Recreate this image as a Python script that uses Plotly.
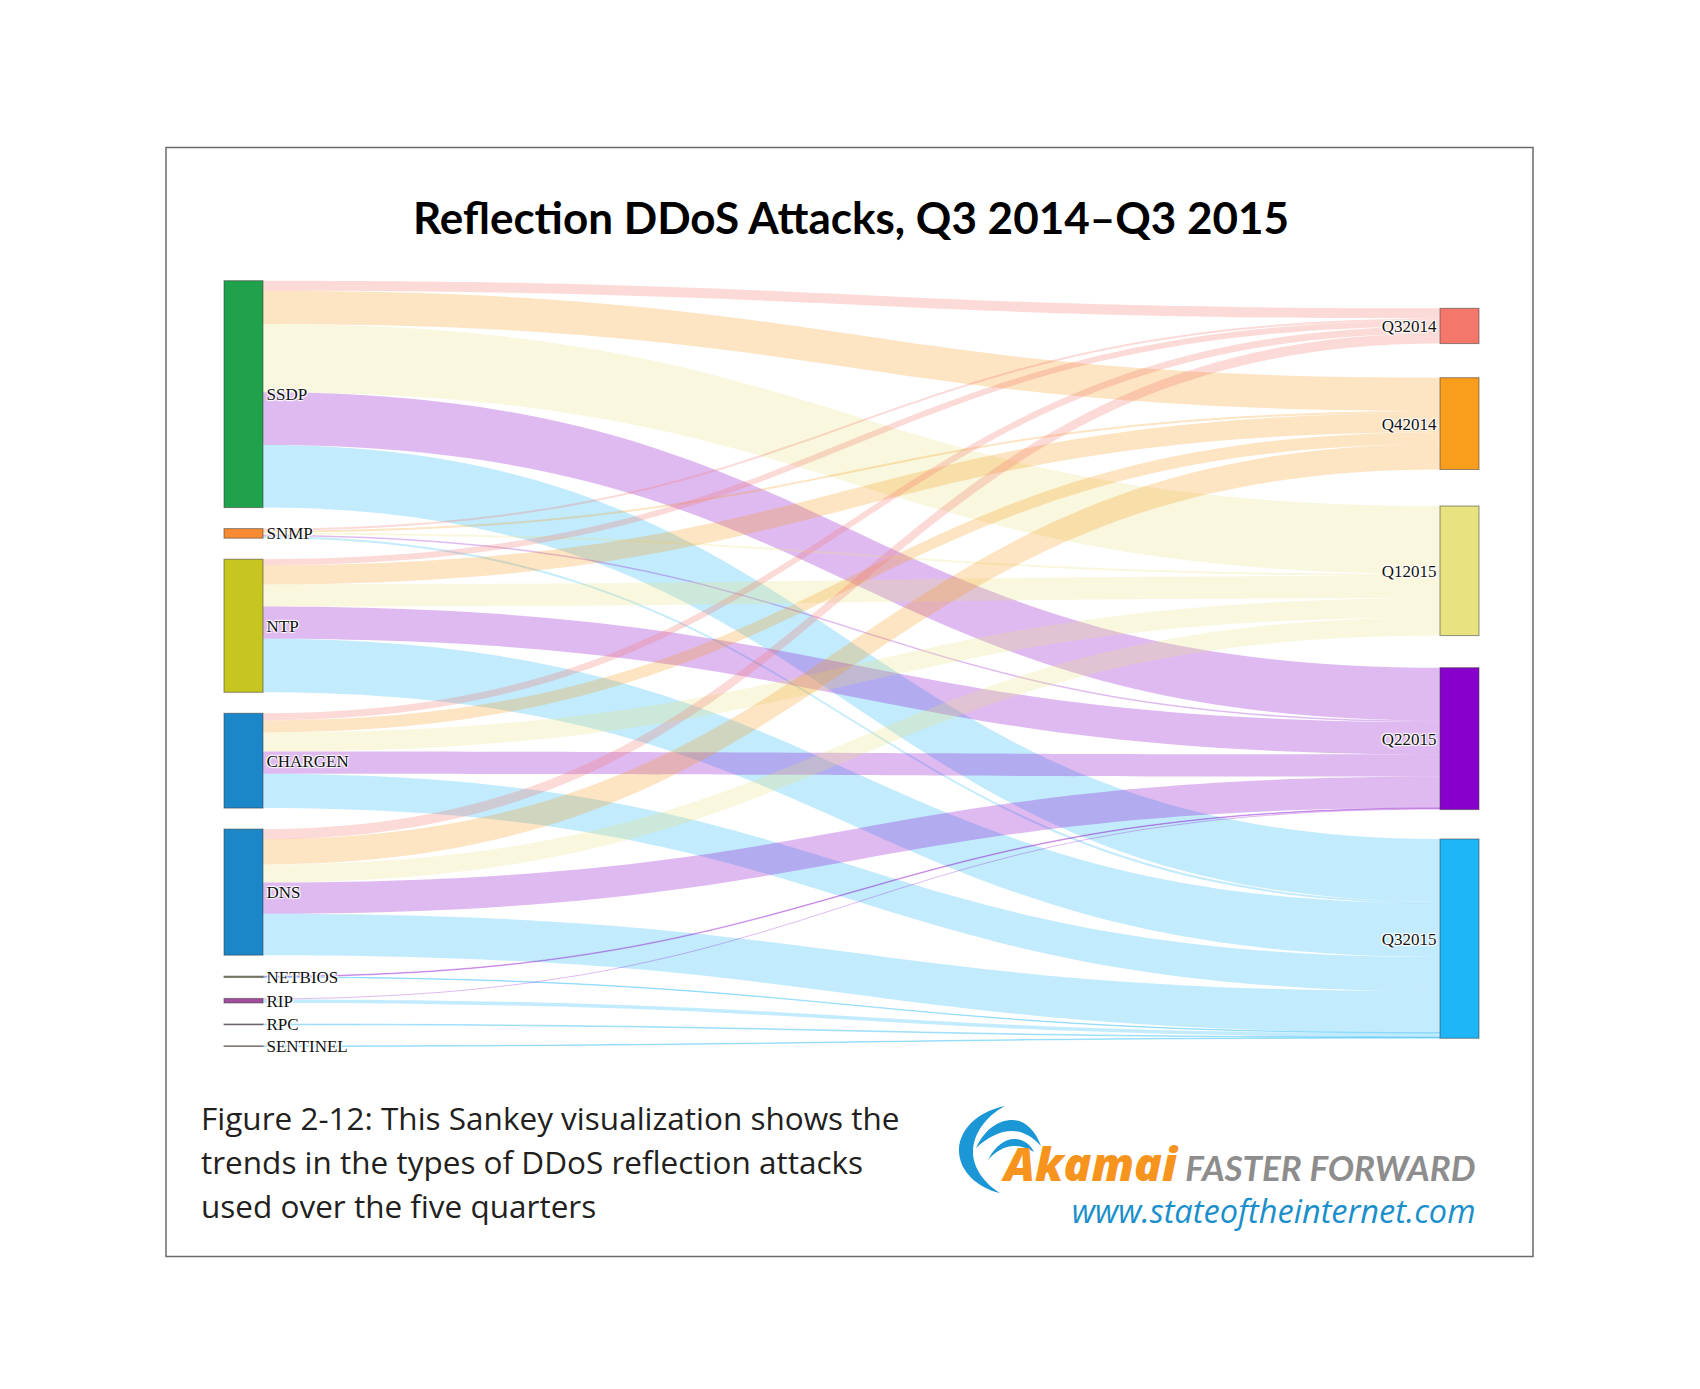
import plotly.graph_objects as go

# ---------------- data ----------------
protocols = ["SSDP", "SNMP", "NTP", "CHARGEN", "DNS", "NETBIOS", "RIP", "RPC", "SENTINEL"]
quarters = ["Q32014", "Q42014", "Q12015", "Q22015", "Q32015"]

ssdp = [10, 33, 67.5, 52.5, 62]
snmp = [2, 2, 2, 1.5, 2]
ntp = [6, 19, 22, 32, 53]
chargen = [7, 12, 19, 22, 34]
dns = [10, 25, 18, 31, 41]
netbios = [0, 0, 0, 0.7, 0.6]
rip = [0, 0, 0, 1, 3.5]
rpc = [0, 0, 0, 0, 0.8]
sentinel = [0, 0, 0, 0, 0.7]
flows = [ssdp, snmp, ntp, chargen, dns, netbios, rip, rpc, sentinel]

title_text = "Reflection DDoS Attacks, Q3 2014\u2013Q3 2015"
caption_lines = ["Figure 2-12: This Sankey visualization shows the",
                 "trends in the types of DDoS reflection attacks",
                 "used over the five quarters"]

# ---------------- styling / layout ----------------
W, H = 1700, 1389
protocol_colors = ["#1fa24b", "#f68b33", "#c7c621", "#1b86c8", "#1b86c8",
                   "#8b8a5c", "#a24d9e", "#8f7396", "#b59a7b"]
quarter_colors = ["#f4776c", "#f99d1c", "#e9e281", "#8800cc", "#1fb6f7"]

dom_left, dom_right = 224.0, 1479.0
dom_top, dom_bot = 280.7, 1046.5
pad = 21
thick = 39
right_tops = [308.3, 377.7, 506.0, 667.7, 839.0]   # pixel top of each quarter node

dw = dom_right - dom_left
dh = dom_bot - dom_top

left_tot = [sum(f) for f in flows]
right_tot = [sum(f[j] for f in flows) for j in range(len(quarters))]
ky = min((dh - (len(protocols) - 1) * pad) / sum(left_tot),
         (dh - (len(quarters) - 1) * pad) / sum(right_tot))

node_x, node_y = [], []
cur = 0.0
for t in left_tot:
    h = t * ky
    node_x.append((thick / 2) / dw)
    node_y.append((cur + h / 2) / dh)
    cur += h + pad
for top, t in zip(right_tops, right_tot):
    node_x.append(1 - (thick / 2) / dw)
    node_y.append((top - dom_top + t * ky / 2) / dh)


def rgba(hexc, a):
    hexc = hexc.lstrip("#")
    r, g, b = int(hexc[0:2], 16), int(hexc[2:4], 16), int(hexc[4:6], 16)
    return f"rgba({r},{g},{b},{a})"


src, tgt, val, lcol = [], [], [], []
for i, f in enumerate(flows):
    for j, v in enumerate(f):
        if v > 0:
            src.append(i)
            tgt.append(len(protocols) + j)
            val.append(v)
            lcol.append(rgba(quarter_colors[j], 0.27))

fig = go.Figure(go.Sankey(
    arrangement="fixed",
    domain=dict(x=[dom_left / W, dom_right / W], y=[1 - dom_bot / H, 1 - dom_top / H]),
    node=dict(
        label=protocols + quarters,
        color=protocol_colors + quarter_colors,
        x=node_x, y=node_y,
        pad=pad, thickness=thick,
        line=dict(color="rgba(60,60,60,0.55)", width=1),
        hoverinfo="none",
    ),
    link=dict(source=src, target=tgt, value=val, color=lcol, hoverinfo="none"),
    textfont=dict(family="Liberation Serif", size=17, color="#111111"),
))


def px(x, y):
    return f"{x / W:.5f},{1 - y / H:.5f}"


def path(cmds):
    out = []
    for c in cmds:
        op = c[0]
        pts = c[1:]
        out.append(op + " " + " ".join(px(*p) for p in pts))
    return " ".join(out) + " Z"


logo_blue = "#1b97d5"
crescent = path([("M", (1005, 1106)),
                 ("C", (975, 1112), (958, 1132), (959, 1152)),
                 ("C", (960, 1172), (978, 1188), (1000, 1193)),
                 ("C", (984, 1183), (973, 1168), (973, 1152)),
                 ("C", (973, 1134), (986, 1116), (1005, 1106))])
arc2 = path([("M", (976, 1148)),
             ("C", (985, 1128), (1000, 1120), (1012, 1120)),
             ("C", (1025, 1120), (1035, 1130), (1041, 1146)),
             ("C", (1032, 1136), (1022, 1131), (1012, 1131)),
             ("C", (1000, 1131), (988, 1137), (976, 1148))])
arc3 = path([("M", (988, 1160)),
             ("C", (995, 1146), (1005, 1139), (1014, 1139)),
             ("C", (1023, 1139), (1030, 1144), (1034, 1152)),
             ("C", (1027, 1148), (1021, 1146), (1014, 1146)),
             ("C", (1005, 1146), (996, 1151), (988, 1160))])

shapes = [
    dict(type="rect", xref="paper", yref="paper",
         x0=166 / W, x1=1533 / W, y0=1 - 1256.5 / H, y1=1 - 147.5 / H,
         line=dict(color="#6b6b6b", width=1.5), fillcolor="rgba(0,0,0,0)"),
]
for p in (crescent, arc2, arc3):
    shapes.append(dict(type="path", xref="paper", yref="paper", path=p,
                       fillcolor=logo_blue, line=dict(width=0)))

annotations = [
    dict(text=title_text, x=851 / W, y=1 - 217 / H, xref="paper", yref="paper",
         xanchor="center", yanchor="middle", showarrow=False,
         font=dict(family="Lato", size=44, weight=700, color="#000000")),
]
for k, (line, cy) in enumerate(zip(caption_lines, [1117, 1161, 1205])):
    annotations.append(dict(text=line, x=199 / W, y=1 - cy / H, xref="paper", yref="paper",
                            xanchor="left", yanchor="middle", showarrow=False,
                            font=dict(family="Open Sans", size=31.5, weight=400, color="#231f20")))

brand = ("<span style='font-family:Open Sans;font-size:46px;font-weight:800;color:#f7941d'>Akamai</span>"
         " <span style='font-family:Lato;font-size:35px;font-weight:700;color:#8d8d8d'>FASTER FORWARD</span>"
         "<br>www.stateoftheinternet.com")
annotations.append(
    dict(text=brand, x=1478 / W, y=1 - 1182 / H, xref="paper", yref="paper",
         xanchor="right", yanchor="middle", align="right", showarrow=False,
         font=dict(family="Open Sans", size=32.5, weight=400, style="italic", color="#1b8fcb")))

fig.update_layout(
    width=W, height=H, autosize=False,
    margin=dict(l=0, r=0, t=0, b=0),
    paper_bgcolor="white", plot_bgcolor="white",
    shapes=shapes, annotations=annotations,
)

fig.write_html("out.html")
